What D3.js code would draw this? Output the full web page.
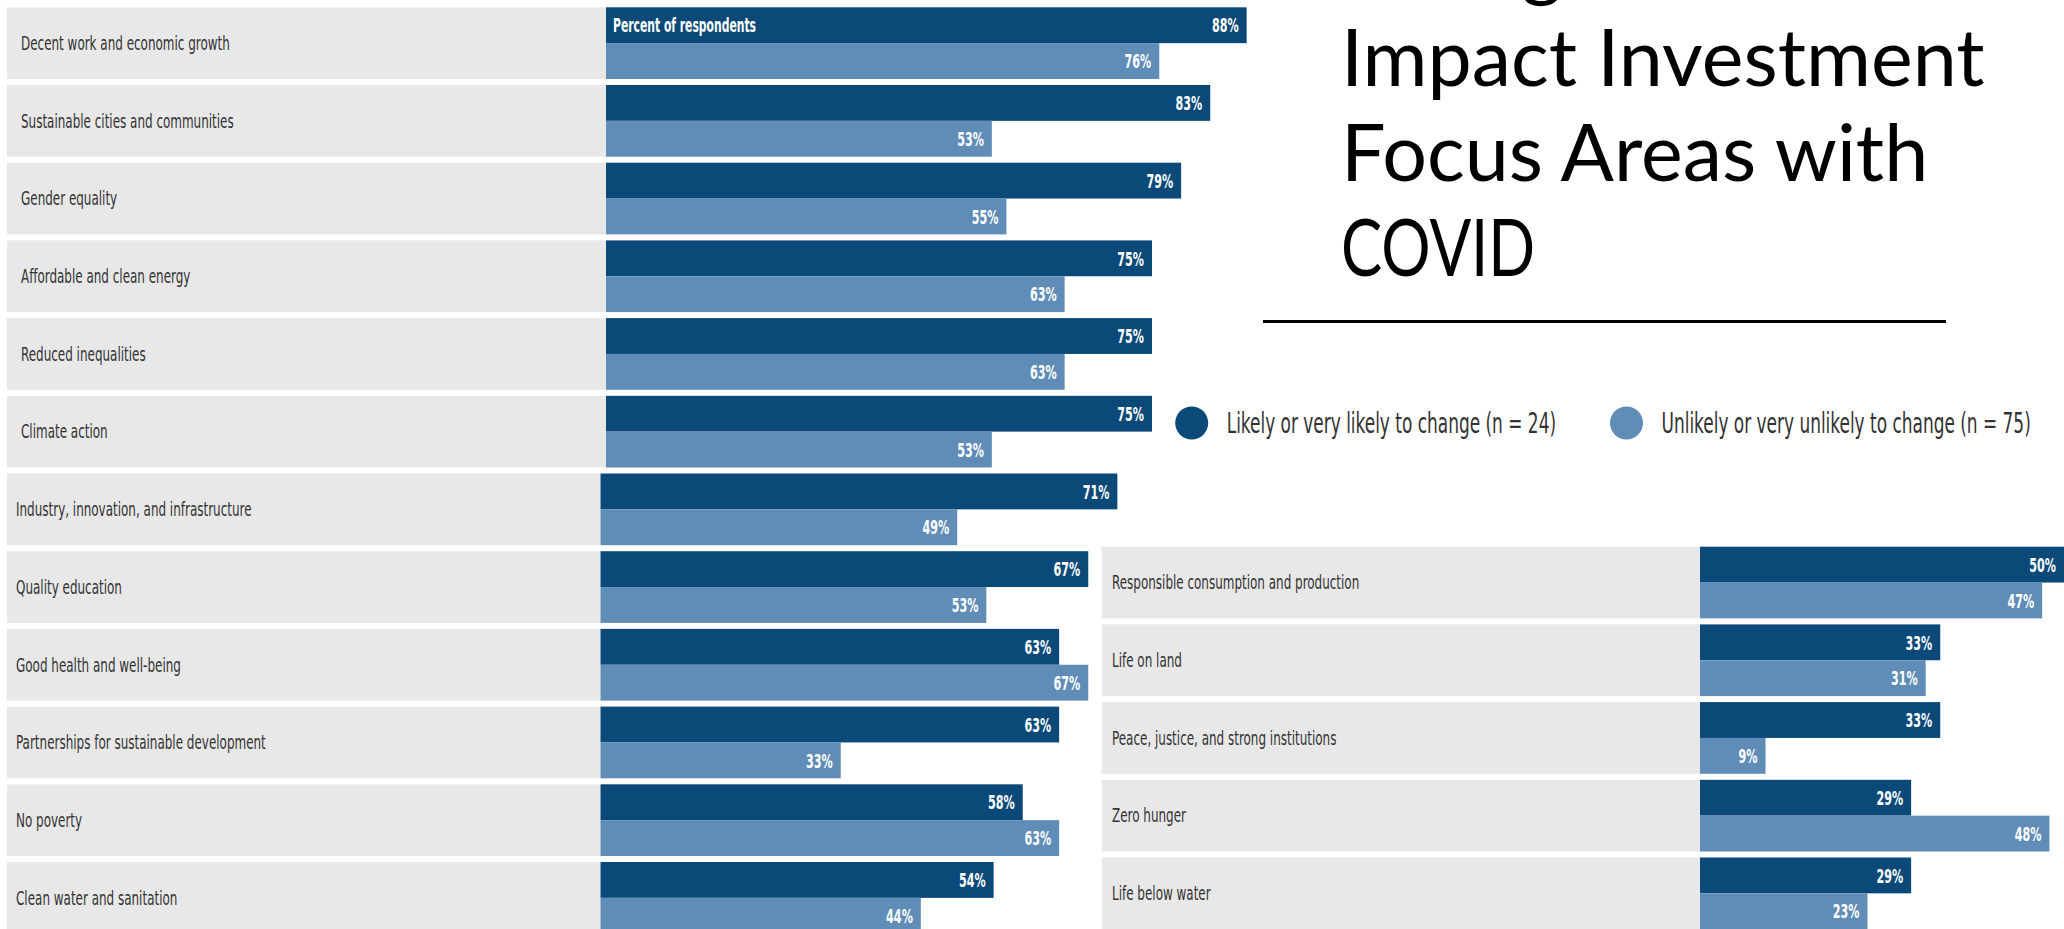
<!DOCTYPE html>
<html>
<head>
<meta charset="utf-8">
<script src="https://cdn.jsdelivr.net/npm/d3@7"></script>
<style>
    body { margin: 0; background: #fff; }
    .cat { font-family: "DejaVu Sans Condensed", "DejaVu Sans", sans-serif; fill: #333; }
    .val { font-family: "DejaVu Sans Condensed", "DejaVu Sans", sans-serif; font-weight: bold; fill: #fff; }
    .title { font-family: Lato, "Open Sans", sans-serif; fill: #000; }
</style>
</head>
<body>
<div id="chart"></div>
<script>
// left panel, top to bottom
let leftCategories = [
    "Decent work and economic growth",
    "Sustainable cities and communities",
    "Gender equality",
    "Affordable and clean energy",
    "Reduced inequalities",
    "Climate action",
    "Industry, innovation, and infrastructure",
    "Quality education",
    "Good health and well-being",
    "Partnerships for sustainable development",
    "No poverty",
    "Clean water and sanitation"
];
let leftLikely = [88, 83, 79, 75, 75, 75, 71, 67, 63, 63, 58, 54];
let leftUnlikely = [76, 53, 55, 63, 63, 53, 49, 53, 67, 33, 63, 44];

// right panel
let rightCategories = [
    "Responsible consumption and production",
    "Life on land",
    "Peace, justice, and strong institutions",
    "Zero hunger",
    "Life below water"
];
let rightLikely = [50, 33, 33, 29, 29];
let rightUnlikely = [47, 31, 9, 48, 23];

let seriesNames = ["Likely or very likely to change (n = 24)", "Unlikely or very unlikely to change (n = 75)"];
let titleLines = ["Changes in", "Impact Investment", "Focus Areas with", "COVID"];

const W = 2064, H = 929;
const colors = ["#0b4a78", "#5f8db7"];
const step = 77.7, gap = 6;

let svg = d3.select("#chart")
    .append("svg")
    .attr("width", W)
    .attr("height", H);

let x = d3.scaleLinear().domain([0, 100]).range([0, 728]);
let sub = d3.scaleBand().domain([0, 1]).range([0, step - gap]);

// squeeze a text to a fraction of its natural width (the source font is very condensed)
let squeeze = (sel, k) => sel.each(function (d, i) {
    const w = this.getComputedTextLength();
    const f = typeof k === "function" ? k(d, i) : k;
    if (f === 1) return;
    this.setAttribute("textLength", w * f);
    this.setAttribute("lengthAdjust", "spacingAndGlyphs");
});

let drawPanel = (cats, likely, unlikely, o) => {
    let rows = cats.map((c, i) => ({ cat: c, vals: [likely[i], unlikely[i]], i: i }));
    let y = d3.scaleBand()
        .domain(d3.range(cats.length))
        .range([o.top - gap / 2, o.top - gap / 2 + cats.length * step])
        .paddingInner(gap / step)
        .paddingOuter(gap / step / 2);

    let g = svg.append("g");
    let row = g.selectAll("g.row")
        .data(rows)
        .enter().append("g")
        .attr("class", "row")
        .attr("transform", d => "translate(0," + y(d.i) + ")");

    row.append("rect")
        .attr("x", d => o.grayX(d.i))
        .attr("width", d => o.barX(d.i) - o.grayX(d.i))
        .attr("height", y.bandwidth())
        .attr("fill", "#e8e8e8");

    row.append("text")
        .attr("class", "cat")
        .attr("x", d => o.labelX(d.i))
        .attr("y", y.bandwidth() / 2)
        .attr("dy", "0.36em")
        .style("font-size", "19px")
        .text(d => d.cat)
        .call(squeeze, 0.7);

    let bars = row.selectAll("g.bar")
        .data(d => d.vals.map((v, k) => ({ v: v, k: k, x0: o.barX(d.i) })))
        .enter().append("g")
        .attr("class", "bar");

    bars.append("rect")
        .attr("x", d => d.x0)
        .attr("y", d => sub(d.k))
        .attr("width", d => x(d.v))
        .attr("height", sub.bandwidth())
        .attr("fill", d => colors[d.k]);

    bars.append("text")
        .attr("class", "val")
        .attr("x", d => d.x0 + x(d.v) - 8)
        .attr("y", d => sub(d.k) + sub.bandwidth() / 2)
        .attr("dy", "0.36em")
        .attr("text-anchor", "end")
        .style("font-size", "20px")
        .text(d => d.v + "%")
        .call(squeeze, 0.62);

    return { g: g, y: y };
};

let left = drawPanel(leftCategories, leftLikely, leftUnlikely, {
    top: 7.3,
    grayX: i => 7,
    barX: i => i < 6 ? 606 : 600.5,
    labelX: i => i < 6 ? 21 : 16
});

drawPanel(rightCategories, rightLikely, rightUnlikely, {
    top: 546.7,
    grayX: i => 1101.7,
    barX: i => 1700,
    labelX: i => 1112
});

// "Percent of respondents" sits in the first dark bar
left.g.append("text")
    .attr("class", "val")
    .attr("x", 613)
    .attr("y", left.y(0) + sub(0) + sub.bandwidth() / 2)
    .attr("dy", "0.36em")
    .style("font-size", "20px")
    .text("Percent of respondents")
    .call(squeeze, 0.6);

// title (first line runs off the top, only its descender shows)
svg.append("g")
    .selectAll("text")
    .data(titleLines)
    .enter().append("text")
    .attr("class", "title")
    .attr("x", 1341)
    .attr("y", (d, i) => -9 + i * 95)
    .style("font-size", "79px")
    .text(d => d)
    .call(squeeze, (d, i) => i === 3 ? 0.78 : 1);

svg.append("line")
    .attr("x1", 1263)
    .attr("x2", 1946)
    .attr("y1", 321.5)
    .attr("y2", 321.5)
    .attr("stroke", "#000")
    .attr("stroke-width", 3);

// legend
let legendX = [1191.7, 1626.5];
let legend = svg.append("g")
    .selectAll("g")
    .data(seriesNames)
    .enter().append("g")
    .attr("transform", (d, i) => "translate(" + legendX[i] + ",423)");

legend.append("circle")
    .attr("r", 16.5)
    .attr("fill", (d, i) => colors[i]);

legend.append("text")
    .attr("class", "cat")
    .attr("x", 35)
    .attr("dy", "0.36em")
    .style("font-size", "29px")
    .text(d => d)
    .call(squeeze, 0.65);
</script>
</body>
</html>
